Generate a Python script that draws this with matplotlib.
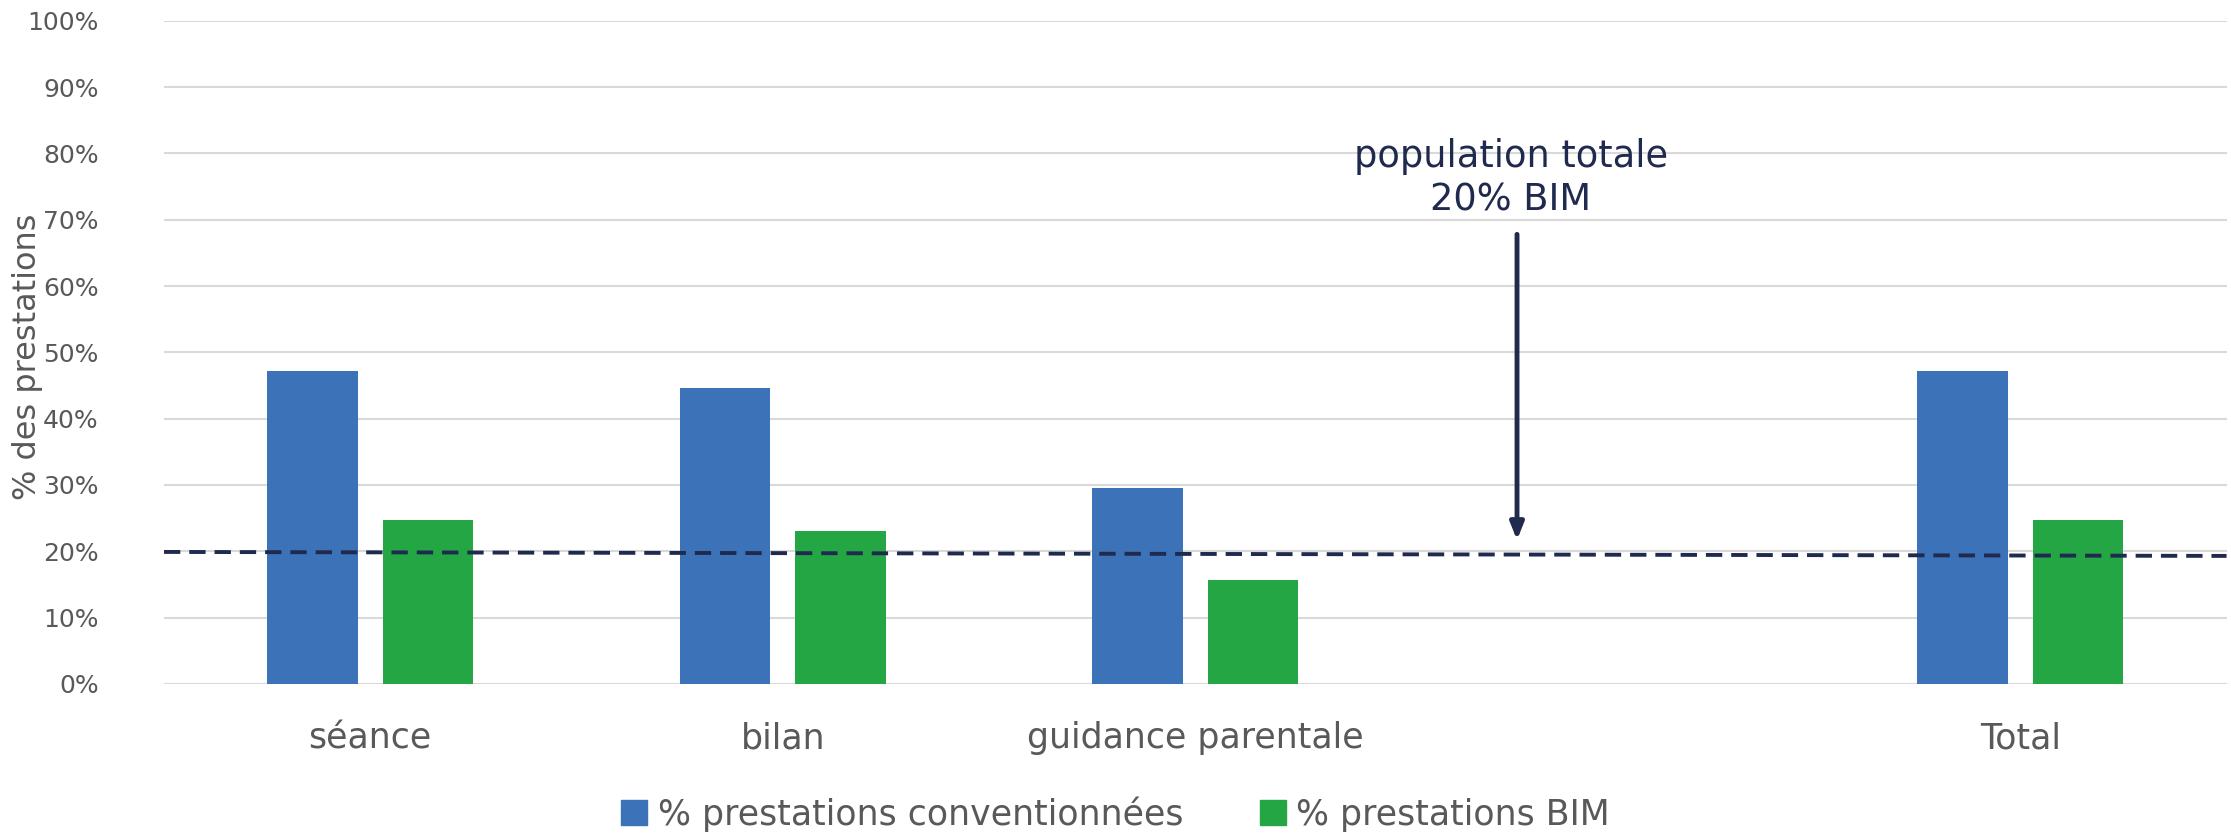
import matplotlib
matplotlib.use("Agg")
import matplotlib.pyplot as plt
from matplotlib.patches import Patch

# Données
categories = ["séance", "bilan", "guidance parentale", "", "Total"]
conventionnees = [47.2, 44.6, 29.6, None, 47.2]
bim = [24.7, 23.0, 15.7, None, 24.7]
ref_line = [19.9, 19.3]          # ligne pointillée "population totale 20% BIM"
arrow_y = [67.8, 21.7]           # flèche : départ, pointe
yticks = list(range(0, 101, 10))

BLUE = "#3C72B8"
GREEN = "#24A644"
NAVY = "#1F2A4E"
GRAY = "#595959"

fig = plt.figure(figsize=(22.31, 8.34), dpi=100)
ax = fig.add_axes([0.0735, 0.18, 0.9245, 0.795])

x = list(range(len(categories)))
w = 0.22
off = 0.14
for i in x:
    if conventionnees[i] is not None:
        ax.bar(i - off, conventionnees[i], width=w, color=BLUE, zorder=2)
    if bim[i] is not None:
        ax.bar(i + off, bim[i], width=w, color=GREEN, zorder=2)

ax.set_xlim(-0.5, len(categories) - 0.5)
ax.set_ylim(0, 100)
ax.set_yticks(yticks)
ax.set_yticklabels([f"{t}%" for t in yticks], fontsize=18, color=GRAY)
ax.set_xticks(x)
ax.set_xticklabels(categories, fontsize=25, color=GRAY)
ax.tick_params(axis="both", length=0)
ax.tick_params(axis="x", pad=27)
ax.tick_params(axis="y", pad=47)
ax.grid(axis="y", color="#D9D9D9", linewidth=1.5, zorder=0)
for s in ax.spines.values():
    s.set_visible(False)

# titre de l'axe y placé à la main
fig.text(0.0125, 0.572, "% des prestations", rotation=90, ha="center",
         va="center", fontsize=23, color=GRAY)

# ligne de référence pointillée
ax.plot(ax.get_xlim(), ref_line, color=NAVY, linewidth=2.8,
        dashes=(4.2, 2.3), zorder=3)

# flèche + annotation
ax_x = 2.78
ax.annotate("", xy=(ax_x, arrow_y[1]), xytext=(ax_x, arrow_y[0]),
            arrowprops=dict(arrowstyle="-|>,head_width=0.4,head_length=1.0",
                            color=NAVY, lw=3.5, shrinkA=0, shrinkB=0), zorder=4)
ax.text(ax_x - 0.015, 76.2, "population totale\n20% BIM", ha="center",
        va="center", fontsize=26.5, color=NAVY, linespacing=1.22)

handles = [Patch(color=BLUE, label="% prestations conventionnées"),
           Patch(color=GREEN, label="% prestations BIM")]
fig.legend(handles=handles, loc="center", bbox_to_anchor=(0.5, 0.024),
           ncol=2, frameon=False, fontsize=25, labelcolor=GRAY,
           handlelength=0.75, handleheight=0.75, handletextpad=0.3,
           columnspacing=2.2)

plt.savefig("out.png", dpi=100)
plt.close()
